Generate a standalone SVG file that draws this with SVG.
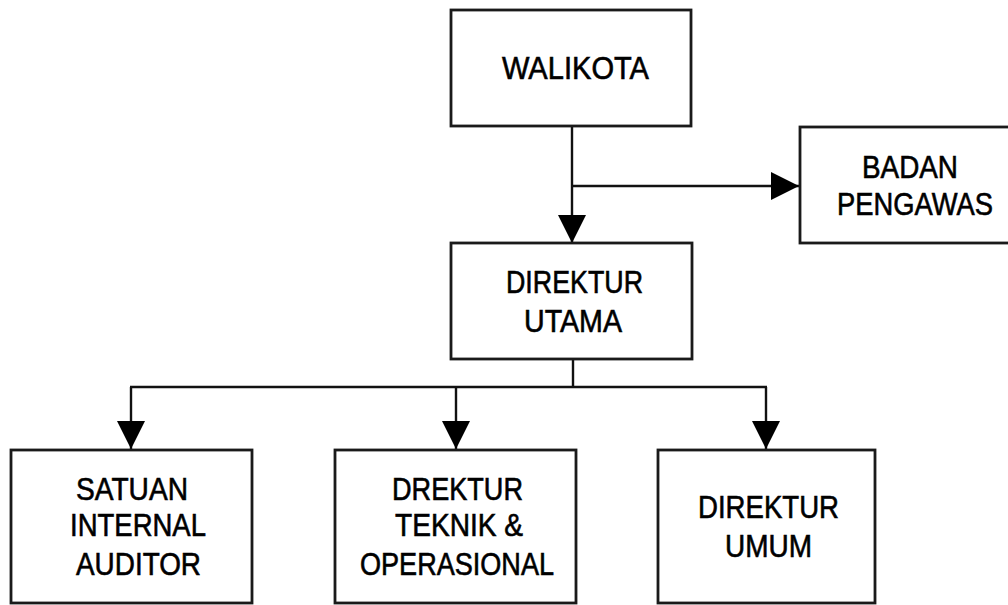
<svg xmlns="http://www.w3.org/2000/svg" width="1008" height="605" viewBox="0 0 1008 605">
  <style>
    .box { fill: #ffffff; stroke: #1a1a1a; stroke-width: 2.8; }
    .lbl { font-family: "Liberation Sans", Arial, sans-serif; font-size: 31px; fill: #000000; stroke: #000000; stroke-width: 0.6; text-anchor: middle; }
    .conn { fill: none; stroke: #111111; stroke-width: 2.4; }
  </style>
  <defs>
    <marker id="arr" markerUnits="userSpaceOnUse" markerWidth="28" markerHeight="28" viewBox="0 0 26 26" refX="26" refY="13" orient="auto">
      <path d="M0,0 L26,13 L0,26 Z" fill="#000000"/>
    </marker>
  </defs>
  <rect width="1008" height="605" fill="#ffffff"/>

  <g id="connectors">
    <line class="conn" x1="572" y1="126" x2="572" y2="243" marker-end="url(#arr)"/>
    <line class="conn" x1="572" y1="186" x2="799" y2="186" marker-end="url(#arr)"/>
    <line class="conn" x1="573" y1="359" x2="573" y2="387"/>
    <line class="conn" x1="130" y1="387" x2="767" y2="387"/>
    <line class="conn" x1="131" y1="387" x2="131" y2="449" marker-end="url(#arr)"/>
    <line class="conn" x1="456" y1="387" x2="456" y2="449" marker-end="url(#arr)"/>
    <line class="conn" x1="766" y1="387" x2="766" y2="449" marker-end="url(#arr)"/>
  </g>

  <g id="walikota">
    <rect class="box" x="451" y="10" width="240" height="116"/>
    <text class="lbl" x="575.5" y="79" textLength="147" lengthAdjust="spacingAndGlyphs">WALIKOTA</text>
  </g>

  <g id="badan-pengawas">
    <rect class="box" x="800" y="127" width="222" height="116"/>
    <text class="lbl" x="910" y="178" textLength="96" lengthAdjust="spacingAndGlyphs">BADAN</text>
    <text class="lbl" x="915" y="215" textLength="156" lengthAdjust="spacingAndGlyphs">PENGAWAS</text>
  </g>

  <g id="direktur-utama">
    <rect class="box" x="451" y="243" width="241" height="116"/>
    <text class="lbl" x="574.5" y="293" textLength="137" lengthAdjust="spacingAndGlyphs">DIREKTUR</text>
    <text class="lbl" x="573" y="332" textLength="98" lengthAdjust="spacingAndGlyphs">UTAMA</text>
  </g>

  <g id="satuan-internal-auditor">
    <rect class="box" x="11" y="450" width="241" height="153"/>
    <text class="lbl" x="132" y="500" textLength="112" lengthAdjust="spacingAndGlyphs">SATUAN</text>
    <text class="lbl" x="138" y="536" textLength="136" lengthAdjust="spacingAndGlyphs">INTERNAL</text>
    <text class="lbl" x="138.5" y="575" textLength="125" lengthAdjust="spacingAndGlyphs">AUDITOR</text>
  </g>

  <g id="drektur-teknik-operasional">
    <rect class="box" x="335" y="450" width="241" height="153"/>
    <text class="lbl" x="457.5" y="500" textLength="131" lengthAdjust="spacingAndGlyphs">DREKTUR</text>
    <text class="lbl" x="459" y="536" textLength="128" lengthAdjust="spacingAndGlyphs">TEKNIK &amp;</text>
    <text class="lbl" x="457" y="575" textLength="194" lengthAdjust="spacingAndGlyphs">OPERASIONAL</text>
  </g>

  <g id="direktur-umum">
    <rect class="box" x="658" y="450" width="217" height="153"/>
    <text class="lbl" x="768.5" y="518" textLength="141" lengthAdjust="spacingAndGlyphs">DIREKTUR</text>
    <text class="lbl" x="768.5" y="557" textLength="87" lengthAdjust="spacingAndGlyphs">UMUM</text>
  </g>
</svg>
